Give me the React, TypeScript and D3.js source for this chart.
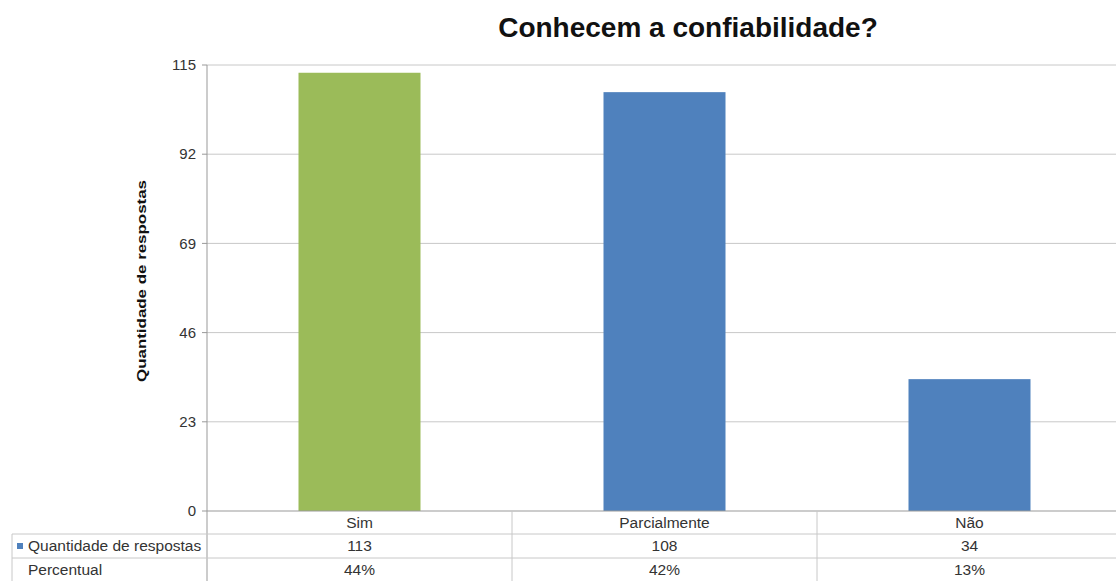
import React from "react";
import * as d3 from "d3";

const categories = ["Sim", "Parcialmente", "Não"];
const respostas = [113, 108, 34];
const barColors = ["#9BBB59", "#4F81BD", "#4F81BD"];
const yTicks = [0, 23, 46, 69, 92, 115];
const seriesName = "Quantidade de respostas";
const percentRowName = "Percentual";
const title = "Conhecem a confiabilidade?";

const W = 1116;
const H = 581;
const plotLeft = 207;
const plotRight = 1122;
const plotTop = 65;
const plotBottom = 511;
const tableLeft = 12;
const rowBounds = [511, 534, 558, 582];

export default function App() {
  const x = d3
    .scaleBand<string>()
    .domain(categories)
    .range([plotLeft, plotRight])
    .paddingInner(0.6)
    .paddingOuter(0.3);
  const y = d3.scaleLinear().domain([0, 115]).range([plotBottom, plotTop]);
  const total = d3.sum(respostas);
  const pct = d3.format(".0%");
  const step = x.step();
  const colEdges = categories.map((_, i) => plotLeft + i * step);

  const font = "'Liberation Sans', Arial, sans-serif";
  const gridColor = "#C8C8C8";
  const textColor = "#333";
  const tableFont = 15.5;
  const mid = (r: number) => (rowBounds[r] + rowBounds[r + 1]) / 2;

  return (
    <svg
      width={W}
      height={H}
      style={{ position: "absolute", left: 0, top: 0, background: "#fff" }}
      fontFamily={font}
    >
      <text
        x={688}
        y={37}
        textAnchor="middle"
        fontSize={28}
        fontWeight="bold"
        fill="#111"
      >
        {title}
      </text>

      {/* gridlines and tick labels */}
      {yTicks.map((t) => (
        <g key={t}>
          {t > 0 && (
            <line x1={plotLeft} x2={W} y1={y(t)} y2={y(t)} stroke={gridColor} strokeWidth={1} />
          )}
          <line x1={plotLeft - 5} x2={plotLeft} y1={y(t)} y2={y(t)} stroke="#999" />
          <text
            x={plotLeft - 11}
            y={y(t)}
            dy="0.35em"
            textAnchor="end"
            fontSize={15}
            fill={textColor}
          >
            {t}
          </text>
        </g>
      ))}

      {/* y axis title */}
      <text
        transform={`translate(141,281) rotate(-90)`}
        textAnchor="middle"
        dy="0.35em"
        fontSize={13}
        fontWeight="bold"
        fill="#111"
        textLength={202}
        lengthAdjust="spacingAndGlyphs"
      >
        {seriesName}
      </text>

      {/* bars */}
      {categories.map((c, i) => (
        <rect
          key={c}
          x={x(c)}
          y={y(respostas[i])}
          width={x.bandwidth()}
          height={y(0) - y(respostas[i])}
          fill={barColors[i]}
        />
      ))}

      {/* y axis line */}
      <line x1={plotLeft} x2={plotLeft} y1={plotTop} y2={H} stroke="#999" />

      {/* data table */}
      <line x1={plotLeft} x2={W} y1={rowBounds[0]} y2={rowBounds[0]} stroke="#999" />
      <line x1={tableLeft} x2={W} y1={rowBounds[1]} y2={rowBounds[1]} stroke={gridColor} />
      <line x1={tableLeft} x2={W} y1={rowBounds[2]} y2={rowBounds[2]} stroke={gridColor} />
      <line x1={tableLeft} x2={tableLeft} y1={rowBounds[1]} y2={H} stroke={gridColor} />
      {colEdges.slice(1).map((cx, i) => (
        <line key={i} x1={cx} x2={cx} y1={rowBounds[0]} y2={H} stroke={gridColor} />
      ))}

      {categories.map((c, i) => {
        const cx = colEdges[i] + step / 2;
        return (
          <g key={c} fontSize={tableFont} fill={textColor} textAnchor="middle">
            <text x={cx} y={mid(0)} dy="0.35em">{c}</text>
            <text x={cx} y={mid(1)} dy="0.35em">{respostas[i]}</text>
            <text x={cx} y={mid(2)} dy="0.35em">{pct(respostas[i] / total)}</text>
          </g>
        );
      })}

      <rect x={17} y={543} width={6} height={6} fill="#4F81BD" />
      <text x={28} y={mid(1)} dy="0.35em" fontSize={tableFont} fill={textColor}>
        {seriesName}
      </text>
      <text x={28} y={mid(2)} dy="0.35em" fontSize={tableFont} fill={textColor}>
        {percentRowName}
      </text>
    </svg>
  );
}
